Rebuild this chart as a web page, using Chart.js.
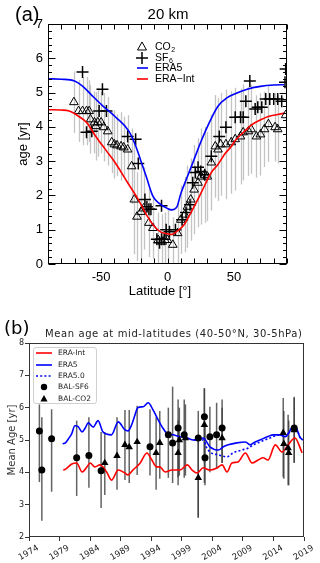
<!DOCTYPE html>
<html><head><meta charset="utf-8">
<script src="https://cdn.jsdelivr.net/npm/chart.js@4.4.1/dist/chart.umd.min.js"></script>
<style>
html,body{margin:0;padding:0;background:#fff;width:320px;height:563px;overflow:hidden}
#ca{position:absolute;left:0;top:0}
#cb{position:absolute;left:0;top:300px}
</style></head><body>
<canvas id="ca" width="320" height="300"></canvas>
<canvas id="cb" width="320" height="263"></canvas>
<script>
// ================= Panel (a) data =================
const era5Lat   = [-90,-80,-70,-64,-57,-49,-39,-29,-24,-20,-16,-11,-6,0,3,7,10,15,20,25,30,38,45,50,60,70,80,88];
const era5Age   = [5.40,5.39,5.34,5.19,4.92,4.62,4.28,3.87,3.45,3.0,2.55,1.98,1.76,1.62,1.58,1.66,2.05,2.55,3.05,3.55,4.0,4.6,4.85,4.95,5.1,5.18,5.22,5.23];
const eraIntLat = [-90,-80,-74,-67,-61,-54,-46,-39,-30,-22,-15,-10,-5,0,3,8,12,16,20,25,33,38,43,48,51,58,63,71,76,83,88];
const eraIntAge = [4.50,4.49,4.46,4.31,4.13,3.72,3.3,2.93,2.37,1.88,1.38,1.1,0.93,0.88,0.86,0.98,1.12,1.38,1.67,2.05,2.67,2.9,3.2,3.43,3.6,3.87,4.05,4.22,4.3,4.36,4.4];
const co2Lat = [-70.5,-67,-64,-61,-59,-58,-55,-54,-52.5,-50,-48,-45,-42,-40,-38,-35,-33,-30,-27,-25,-23,-20,-18,-14,-11,-7,-4,-2,0,4,7.6,10,13,15,17.5,20,23,25,28,30,33,36,38,40,44,48,51,55,57,61,63,67,70,73,76,81,83,89];
const co2Age = [4.72,4.46,4.46,4.46,4.46,4.22,4.13,4.02,4.13,4.13,3.99,3.87,3.55,3.49,3.46,3.43,3.40,3.34,2.85,1.88,1.38,1.52,1.62,1.2,1.05,0.7,0.65,0.7,0.7,0.56,0.9,1.29,1.44,1.67,1.88,2.17,2.37,2.55,2.6,2.55,2.96,3.43,3.34,3.49,3.49,3.55,3.64,3.72,3.84,3.87,3.93,3.72,3.78,3.93,4.08,3.99,3.93,4.34];
const co2Err = [0.9,0.9,1.0,1.0,0.9,1.0,0.9,1.0,1.0,0.9,1.0,1.0,0.9,1.0,0.9,1.0,0.9,1.0,1.1,1.6,1.3,1.4,1.2,1.0,0.9,0.8,0.8,0.8,0.9,0.8,0.9,1.0,1.1,1.2,1.2,1.3,1.3,1.4,1.4,1.3,1.4,1.5,1.5,1.5,1.6,1.5,1.5,1.4,1.4,1.3,1.3,1.2,1.2,1.1,1.1,1.0,1.0,1.0];
const sf6Lat = [-64,-49,-51.5,-46,-61,-57,-30,-24,-22,-17,-15.5,-14,-12.5,-4.5,-8,-6,-4.5,-2.5,-1,1.5,6,11,14,17,19,21,23,25,28,33,39,44,51,55,57,59,62,66,68,71,74,77,80,83,86,88.5,89];
const sf6Age = [5.6,5.1,4.46,4.46,3.84,3.87,3.72,3.64,2.93,1.88,1.67,1.6,1.6,1.7,0.72,0.62,0.72,0.72,1.0,0.94,1.0,1.29,1.5,1.73,2.37,2.67,2.82,2.7,2.6,3.14,3.72,3.99,4.28,4.28,4.28,4.75,5.34,4.52,4.57,4.57,4.81,4.81,4.81,4.81,4.75,5.3,5.69];
const aXTickLabels = [-50,0,50];
const aYTickLabels = [0,1,2,3,4,5,6,7];

// ================= Panel (b) data =================
const bEra5Year = [1979.5,1980,1980.5,1981,1981.5,1982,1982.7,1983.2,1983.7,1984.5,1985.3,1986.1,1987.5,1988.6,1989.7,1990.2,1990.8,1991.3,1991.8,1992.7,1993.5,1994.3,1995.2,1995.8,1996.5,1997.6,1998.7,1999.9,2000.9,2001.7,2002.5,2003.6,2005,2005.8,2006.6,2008,2009.4,2010.2,2011,2011.8,2013,2014,2015.1,2015.9,2016.5,2017.2,2017.8,2018.3,2018.8];
const bEra5Age  = [4.88,4.92,5.05,5.2,5.44,5.42,5.25,5.37,5.53,5.4,5.6,5.25,5.16,5.56,5.31,5.28,5.47,5.75,6.0,6.03,6.15,5.93,5.6,5.4,5.22,5.16,5.1,5.06,5.0,5.0,5.06,4.79,4.69,4.79,4.85,4.91,4.94,4.85,4.94,5.0,5.1,5.16,5.16,5.1,5.22,5.41,5.35,5.1,5.0];
const bEra50Year = [2000.9,2001.7,2002.5,2003,2003.6,2005,2006.4,2007.4,2008.8,2009.9,2010.7,2011.8,2013.4,2014.5,2015.1,2015.9,2016.5,2017.2,2017.8,2018.3,2018.8];
const bEra50Age  = [5.0,5.0,5.0,4.79,4.63,4.54,4.48,4.6,4.69,4.75,4.85,4.94,5.06,5.14,5.16,5.1,5.22,5.41,5.35,5.1,5.0];
const bEraIntYear = [1979.6,1980,1981,1981.8,1982.7,1983.5,1984,1984.8,1985.6,1986.7,1987.5,1988.6,1989.7,1990.2,1991,1992.2,1993.3,1994.1,1994.9,1995.4,1996.3,1997.4,1998.7,1999.9,2000.7,2001.5,2002.5,2003.6,2004.8,2005.6,2006.4,2007.2,2008.2,2009.4,2010.5,2011.5,2012.3,2013.1,2014.3,2015.4,2016.4,2017.5,2018.7];
const bEraIntAge  = [4.07,4.1,4.26,4.29,4.01,4.17,4.29,4.17,4.23,4.01,3.76,4.07,3.98,3.92,4.07,4.29,4.6,4.38,4.17,4.17,4.01,4.07,4.07,4.23,4.07,3.98,4.14,4.07,4.14,4.23,4.01,4.29,4.32,4.6,4.29,4.38,4.45,4.38,4.85,4.63,4.85,5.06,4.6];
const balSF6Year = [1975.7,1976.1,1977.7,1981.8,1983.8,1985.8,1993.8,1996.8,1997.5,1998.4,1999.4,2001.7,2002.7,2002.8,2003.6,2004.7,2005.6,2017.4];
const balSF6Age  = [5.28,4.07,5.04,4.45,4.52,4.05,4.79,5.16,4.91,5.37,5.16,5.06,5.72,4.45,5.1,5.16,5.37,5.37];
const balSF6Lo   = [3.7,2.5,3.4,3.27,3.52,2.9,3.9,3.83,3.67,3.85,3.83,2.6,3.67,3.6,4.0,4.1,4.29,4.3];
const balSF6Hi   = [6.1,5.7,5.95,5.6,5.7,5.25,5.95,6.0,6.65,6.25,6.25,5.9,6.6,5.5,6.03,6.15,6.25,6.34];
const balCO2Year = [1986.4,1988.4,1989.7,1990.4,1991.7,1994.8,1995.4,1998.4,1998.6,1999.6,2001.7,2002.7,2005.6,2015.6,2015.7,2016.4,2016.5,2017.4];
const balCO2Age  = [4.29,4.51,4.85,4.78,4.94,4.6,4.91,4.6,5.0,5.06,3.83,5.47,5.06,5.22,4.88,4.75,4.6,5.31];
const balCO2Lo   = [3.3,3.46,3.76,3.67,3.92,3.46,3.8,3.6,3.9,3.9,2.6,4.3,4.29,3.85,3.8,3.6,3.6,4.3];
const balCO2Hi   = [5.25,5.7,5.93,5.93,6.06,5.7,5.9,5.6,6.0,6.1,5.0,6.6,6.0,6.3,5.9,5.78,5.6,6.3];
const bXTickLabels = [1974,1979,1984,1989,1994,1999,2004,2009,2014,2019];
const bYTickLabels = [2,3,4,5,6,7,8];

// ================= helpers =================
const pts = (xs, ys) => xs.map((x, i) => ({x: x, y: ys[i]}));
const fontA = "'Liberation Sans', Arial, sans-serif";
const fontB = "'DejaVu Sans', sans-serif";

// ================= Panel (a) =================
const aPlugin = {
  id: 'aDeco',
  beforeDatasetsDraw(chart) {
    const {ctx, chartArea: ca, scales: {x, y}} = chart;
    ctx.save();
    ctx.beginPath(); ctx.rect(ca.left, ca.top, ca.right - ca.left, ca.bottom - ca.top); ctx.clip();
    ctx.strokeStyle = '#c4c4c4'; ctx.lineWidth = 1.3;
    co2Lat.forEach((lat, i) => {
      const px = Math.round(x.getPixelForValue(lat)) + 0.5;
      ctx.beginPath();
      ctx.moveTo(px, y.getPixelForValue(co2Age[i] - co2Err[i]));
      ctx.lineTo(px, y.getPixelForValue(co2Age[i] + co2Err[i]));
      ctx.stroke();
    });
    ctx.restore();
  },
  afterDraw(chart) {
    const {ctx, chartArea: ca, scales: {x, y}} = chart;
    ctx.save();
    ctx.strokeStyle = '#000'; ctx.lineWidth = 1;
    const L = Math.round(ca.left) + 0.5, R = Math.round(ca.right) - 0.5, T = Math.round(ca.top) + 0.5, B = Math.round(ca.bottom) - 0.5;
    ctx.strokeRect(L, T, R - L, B - T);
    ctx.beginPath();
    for (let v = -90; v <= 90; v += 10) {
      const px = Math.round(x.getPixelForValue(v)) + 0.5;
      ctx.moveTo(px, B); ctx.lineTo(px, B - 5);
      ctx.moveTo(px, T); ctx.lineTo(px, T + 5);
    }
    for (let k = 0; k <= 35; k++) {
      const v = k * 0.2;
      const py = Math.round(y.getPixelForValue(v)) + 0.5;
      const len = (k % 5 === 0) ? 7 : 3.5;
      ctx.moveTo(L, py); ctx.lineTo(L + len, py);
      ctx.moveTo(R, py); ctx.lineTo(R - len, py);
    }
    ctx.stroke();
    // texts
    ctx.fillStyle = '#000';
    ctx.font = '20px ' + fontA; ctx.textAlign = 'left'; ctx.textBaseline = 'alphabetic';
    ctx.fillText('(a)', 15, 21);
    ctx.font = '15px ' + fontA; ctx.textAlign = 'center';
    ctx.fillText('20 km', 168, 19);
    ctx.font = '13px ' + fontA;
    ctx.fillText('Latitude [°]', 160, 295);
    ctx.save(); ctx.translate(27, (ca.top + ca.bottom) / 2); ctx.rotate(-Math.PI / 2);
    ctx.fillText('age [yr]', 0, 0); ctx.restore();
    // legend
    const lx = 142, tx = 155, rows = [47, 58, 68, 79];
    ctx.lineWidth = 1; ctx.strokeStyle = '#000';
    ctx.beginPath(); ctx.moveTo(lx, rows[0] - 5); ctx.lineTo(lx + 4.5, rows[0] + 3); ctx.lineTo(lx - 4.5, rows[0] + 3); ctx.closePath(); ctx.stroke();
    ctx.lineWidth = 1.5;
    ctx.beginPath(); ctx.moveTo(lx - 6, rows[1]); ctx.lineTo(lx + 6, rows[1]); ctx.moveTo(lx, rows[1] - 6); ctx.lineTo(lx, rows[1] + 6); ctx.stroke();
    ctx.lineWidth = 1.6;
    ctx.strokeStyle = '#0000ff'; ctx.beginPath(); ctx.moveTo(lx - 5, rows[2]); ctx.lineTo(lx + 6, rows[2]); ctx.stroke();
    ctx.strokeStyle = '#ff0000'; ctx.beginPath(); ctx.moveTo(lx - 5, rows[3]); ctx.lineTo(lx + 6, rows[3]); ctx.stroke();
    ctx.textAlign = 'left'; ctx.textBaseline = 'middle'; ctx.font = '10.5px ' + fontA;
    let w = ctx.measureText('CO').width; ctx.fillText('CO', tx, rows[0]);
    ctx.font = '7px ' + fontA; ctx.fillText('2', tx + w + 0.5, rows[0] + 3);
    ctx.font = '10.5px ' + fontA; w = ctx.measureText('SF').width; ctx.fillText('SF', tx, rows[1]);
    ctx.font = '7px ' + fontA; ctx.fillText('6', tx + w + 0.5, rows[1] + 3);
    ctx.font = '10.5px ' + fontA;
    ctx.fillText('ERA5', tx, rows[2]);
    ctx.fillText('ERA\u2212Int', tx, rows[3]);
    ctx.restore();
  }
};

new Chart(document.getElementById('ca'), {
  type: 'scatter',
  data: { datasets: [
    {label: 'ERA5', data: pts(era5Lat, era5Age), showLine: true, borderColor: '#0000ff', borderWidth: 1.6, pointRadius: 0, cubicInterpolationMode: 'monotone', fill: false},
    {label: 'ERA-Int', data: pts(eraIntLat, eraIntAge), showLine: true, borderColor: '#ff0000', borderWidth: 1.6, pointRadius: 0, cubicInterpolationMode: 'monotone', fill: false},
    {label: 'SF6', data: pts(sf6Lat, sf6Age), pointStyle: 'cross', pointRadius: 6, borderColor: '#000', borderWidth: 1.5, showLine: false},
    {label: 'CO2', data: pts(co2Lat, co2Age), pointStyle: 'triangle', pointRadius: 5, borderColor: '#000', backgroundColor: 'rgba(0,0,0,0)', borderWidth: 1, showLine: false}
  ]},
  options: {
    responsive: false, animation: false, events: [],
    layout: {padding: {left: 0, right: 33, top: 24, bottom: 0}},
    plugins: {legend: {display: false}, tooltip: {enabled: false}},
    scales: {
      x: {type: 'linear', min: -90, max: 90,
          afterBuildTicks: s => { s.ticks = aXTickLabels.map(v => ({value: v})); },
          afterFit: s => { s.height = 36; },
          grid: {display: false, drawTicks: false}, border: {display: false},
          ticks: {color: '#000', font: {family: fontA, size: 13}, padding: 6, maxRotation: 0, autoSkip: false, callback: v => String(v)}},
      y: {type: 'linear', min: 0, max: 7,
          afterBuildTicks: s => { s.ticks = aYTickLabels.map(v => ({value: v})); },
          afterFit: s => { s.width = 48; },
          grid: {display: false, drawTicks: false}, border: {display: false},
          ticks: {color: '#000', font: {family: fontA, size: 13}, padding: 5, autoSkip: false, callback: v => String(v)}}
    }
  },
  plugins: [aPlugin]
});

// ================= Panel (b) =================
const bPlugin = {
  id: 'bDeco',
  beforeDatasetsDraw(chart) {
    const {ctx, scales: {x, y}} = chart;
    ctx.save();
    ctx.strokeStyle = 'rgba(60,60,60,0.8)'; ctx.lineWidth = 1.5;
    const bars = (xs, lo, hi) => xs.forEach((yr, i) => {
      const px = x.getPixelForValue(yr);
      ctx.beginPath(); ctx.moveTo(px, y.getPixelForValue(lo[i])); ctx.lineTo(px, y.getPixelForValue(hi[i])); ctx.stroke();
    });
    bars(balSF6Year, balSF6Lo, balSF6Hi);
    bars(balCO2Year, balCO2Lo, balCO2Hi);
    ctx.restore();
  },
  afterDraw(chart) {
    const {ctx, chartArea: ca} = chart;
    ctx.save();
    ctx.strokeStyle = '#333'; ctx.lineWidth = 1;
    const L = Math.round(ca.left) + 0.5, R = Math.round(ca.right) - 0.5, T = Math.round(ca.top) + 0.5, B = Math.round(ca.bottom) - 0.5;
    ctx.strokeRect(L, T, R - L, B - T);
    ctx.fillStyle = '#000';
    ctx.font = '18px ' + fontB; ctx.textAlign = 'left'; ctx.textBaseline = 'alphabetic';
    ctx.fillText('(b)', 4, 34);
    // title stretched between x=45 and x=302
    const title = 'Mean age at mid-latitudes (40-50°N, 30-5hPa)';
    ctx.font = '10px ' + fontB;
    const mw = ctx.measureText(title).width;
    const sp = Math.max(0, (257 - mw) / (title.length - 1));
    ctx.letterSpacing = sp.toFixed(2) + 'px';
    ctx.fillStyle = '#222';
    ctx.fillText(title, 45, 37);
    ctx.letterSpacing = '0px';
    // y title
    ctx.fillStyle = '#333';
    ctx.font = '10px ' + fontB; ctx.textAlign = 'center'; ctx.textBaseline = 'middle';
    ctx.save(); ctx.translate(12, (ca.top + ca.bottom) / 2); ctx.rotate(-Math.PI / 2);
    ctx.fillText('Mean Age [yr]', 0, 0); ctx.restore();
    // legend
    ctx.fillStyle = 'rgba(255,255,255,0.85)'; ctx.strokeStyle = '#d0d0d0'; ctx.lineWidth = 1;
    ctx.beginPath(); ctx.roundRect(33.5, 47.5, 63, 56, 2.5); ctx.fill(); ctx.stroke();
    const rows = [53, 65, 76, 87, 99];
    const x0 = 36, x1 = 52, tx = 58;
    ctx.lineWidth = 1.6;
    ctx.strokeStyle = '#ff0000'; ctx.beginPath(); ctx.moveTo(x0, rows[0]); ctx.lineTo(x1, rows[0]); ctx.stroke();
    ctx.strokeStyle = '#0000ff'; ctx.beginPath(); ctx.moveTo(x0, rows[1]); ctx.lineTo(x1, rows[1]); ctx.stroke();
    ctx.setLineDash([2, 2.2]); ctx.beginPath(); ctx.moveTo(x0, rows[2]); ctx.lineTo(x1, rows[2]); ctx.stroke(); ctx.setLineDash([]);
    ctx.fillStyle = '#000';
    ctx.beginPath(); ctx.arc(44, rows[3], 3.2, 0, Math.PI * 2); ctx.fill();
    ctx.beginPath(); ctx.moveTo(44, rows[4] - 4); ctx.lineTo(47.6, rows[4] + 2.5); ctx.lineTo(40.4, rows[4] + 2.5); ctx.closePath(); ctx.fill();
    ctx.fillStyle = '#222'; ctx.font = '7.5px ' + fontB; ctx.textAlign = 'left'; ctx.textBaseline = 'middle';
    ['ERA-Int', 'ERA5', 'ERA5.0', 'BAL-SF6', 'BAL-CO2'].forEach((t, i) => ctx.fillText(t, tx, rows[i]));
    ctx.restore();
  }
};

new Chart(document.getElementById('cb'), {
  type: 'scatter',
  data: { datasets: [
    {label: 'BAL-SF6', data: pts(balSF6Year, balSF6Age), pointStyle: 'circle', pointRadius: 3.5, backgroundColor: '#000', borderColor: '#000', borderWidth: 0},
    {label: 'BAL-CO2', data: pts(balCO2Year, balCO2Age), pointStyle: 'triangle', pointRadius: 4.3, backgroundColor: '#000', borderColor: '#000', borderWidth: 0},
    {label: 'ERA5', data: pts(bEra5Year, bEra5Age), showLine: true, borderColor: '#0000ff', borderWidth: 1.6, pointRadius: 0, cubicInterpolationMode: 'monotone'},
    {label: 'ERA5.0', data: pts(bEra50Year, bEra50Age), showLine: true, borderColor: '#0000ff', borderWidth: 1.6, borderDash: [2, 2.2], pointRadius: 0, cubicInterpolationMode: 'monotone'},
    {label: 'ERA-Int', data: pts(bEraIntYear, bEraIntAge), showLine: true, borderColor: '#ff0000', borderWidth: 1.6, pointRadius: 0, cubicInterpolationMode: 'monotone'}
  ]},
  options: {
    responsive: false, animation: false, events: [],
    layout: {padding: {left: 0, right: 16, top: 43, bottom: 0}},
    plugins: {legend: {display: false}, tooltip: {enabled: false}},
    scales: {
      x: {type: 'linear', min: 1974, max: 2019,
          afterBuildTicks: s => { s.ticks = bXTickLabels.map(v => ({value: v})); },
          afterFit: s => { s.height = 26; },
          grid: {display: true, drawOnChartArea: false, drawTicks: true, tickLength: 4, color: '#333'}, border: {display: false},
          ticks: {color: '#222', font: {family: fontB, size: 8.5}, padding: 2, minRotation: 30, maxRotation: 30, labelOffset: 9, autoSkip: false, callback: v => String(v)}},
      y: {type: 'linear', min: 2, max: 8,
          afterBuildTicks: s => { s.ticks = bYTickLabels.map(v => ({value: v})); },
          afterFit: s => { s.width = 29; },
          grid: {display: true, drawOnChartArea: false, drawTicks: true, tickLength: 4, color: '#333'}, border: {display: false},
          ticks: {color: '#222', font: {family: fontB, size: 8}, padding: 1, autoSkip: false, callback: v => String(v)}}
    }
  },
  plugins: [bPlugin]
});
</script>
</body></html>
